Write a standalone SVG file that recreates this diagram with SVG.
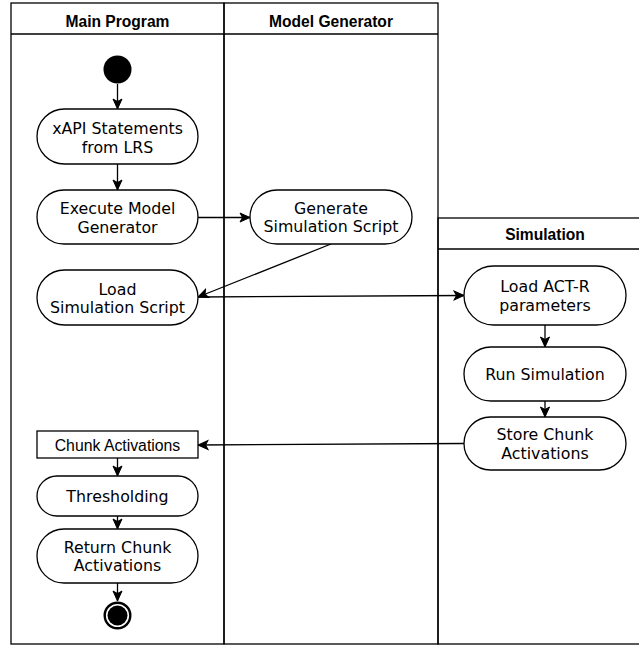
<svg xmlns="http://www.w3.org/2000/svg" width="639" height="646" viewBox="0 0 639 646">
  <style>
    .lane { fill: none; stroke: #000; stroke-width: 1.3; }
    .act { fill: #fff; stroke: #000; stroke-width: 1.3; }
    .lbl { font-family: "DejaVu Sans", Verdana, sans-serif; font-size: 15.8px; fill: #000; text-anchor: middle; }
    .hdr { font-family: "Liberation Sans", Arial, sans-serif; font-size: 15.6px; font-weight: bold; fill: #000; text-anchor: middle; }
    .obj { font-family: "Liberation Sans", Arial, sans-serif; font-size: 15.8px; fill: #000; text-anchor: middle; }
    .edge { fill: none; stroke: #000; stroke-width: 1.3; marker-end: url(#arrow); }
  </style>
  <defs>
    <marker id="arrow" markerUnits="userSpaceOnUse" viewBox="-11 -6 12 12" markerWidth="12" markerHeight="12" refX="0" refY="0" orient="auto">
      <path d="M0,0 L-10,-4.5 L-7.5,0 L-10,4.5 Z" fill="#000" stroke="#000" stroke-width="1"/>
    </marker>
  </defs>
  <rect x="0" y="0" width="639" height="646" fill="#fff"/>

  <!-- swimlanes -->
  <g id="lane-main">
    <rect class="lane" x="11" y="3" width="213" height="641"/>
    <line class="lane" x1="11" y1="34" x2="224" y2="34"/>
    <text class="hdr" x="117.5" y="26.5">Main Program</text>
  </g>
  <g id="lane-generator">
    <rect class="lane" x="224" y="3" width="214" height="641"/>
    <line class="lane" x1="224" y1="34" x2="438" y2="34"/>
    <text class="hdr" x="331" y="26.5">Model Generator</text>
  </g>
  <g id="lane-simulation">
    <rect class="lane" x="438" y="218" width="214" height="426"/>
    <line class="lane" x1="438" y1="249" x2="652" y2="249"/>
    <text class="hdr" x="545" y="240">Simulation</text>
  </g>

  <!-- connectors -->
  <g id="connectors">
    <line class="edge" x1="117.5" y1="84" x2="117.5" y2="109"/>
    <line class="edge" x1="117.5" y1="164" x2="117.5" y2="190"/>
    <line class="edge" x1="198" y1="217.5" x2="250" y2="217.5"/>
    <line class="edge" x1="331" y1="244" x2="198" y2="297"/>
    <line class="edge" x1="198" y1="297" x2="464" y2="295.5"/>
    <line class="edge" x1="545" y1="325" x2="545" y2="347"/>
    <line class="edge" x1="545" y1="401" x2="545" y2="417"/>
    <line class="edge" x1="464" y1="443.5" x2="198" y2="445"/>
    <line class="edge" x1="117.5" y1="458" x2="117.5" y2="476"/>
    <line class="edge" x1="117.5" y1="516" x2="117.5" y2="529"/>
    <line class="edge" x1="117.5" y1="583" x2="117.5" y2="601"/>
  </g>

  <!-- nodes -->
  <g id="start">
    <circle cx="117.5" cy="69.5" r="14" fill="#000"/>
  </g>
  <g id="xapi-statements">
    <rect class="act" x="37" y="109" width="161" height="55" rx="27.5"/>
    <text class="lbl" x="117.5" y="133.5">xAPI Statements</text>
    <text class="lbl" x="117.5" y="152.5">from LRS</text>
  </g>
  <g id="execute-model-generator">
    <rect class="act" x="37" y="190" width="161" height="54" rx="27"/>
    <text class="lbl" x="117.5" y="214">Execute Model</text>
    <text class="lbl" x="117.5" y="232.7">Generator</text>
  </g>
  <g id="generate-simulation-script">
    <rect class="act" x="250" y="190" width="162" height="54" rx="27"/>
    <text class="lbl" x="331" y="213.5">Generate</text>
    <text class="lbl" x="331" y="232.3">Simulation Script</text>
  </g>
  <g id="load-simulation-script">
    <rect class="act" x="37" y="270" width="161" height="55" rx="27.5"/>
    <text class="lbl" x="117.5" y="294.5">Load</text>
    <text class="lbl" x="117.5" y="313">Simulation Script</text>
  </g>
  <g id="load-actr-parameters">
    <rect class="act" x="464" y="266" width="162" height="59" rx="29.5"/>
    <text class="lbl" x="545" y="292">Load ACT-R</text>
    <text class="lbl" x="545" y="310.5">parameters</text>
  </g>
  <g id="run-simulation">
    <rect class="act" x="464" y="347" width="162" height="54" rx="27"/>
    <text class="lbl" x="545" y="380">Run Simulation</text>
  </g>
  <g id="store-chunk-activations">
    <rect class="act" x="464" y="417" width="162" height="53" rx="26.5"/>
    <text class="lbl" x="545" y="440">Store Chunk</text>
    <text class="lbl" x="545" y="459">Activations</text>
  </g>
  <g id="chunk-activations">
    <rect class="act" x="37" y="431" width="161" height="27"/>
    <text class="obj" x="117.5" y="450.5">Chunk Activations</text>
  </g>
  <g id="thresholding">
    <rect class="act" x="37" y="476" width="161" height="40" rx="20"/>
    <text class="lbl" x="117.5" y="501.5">Thresholding</text>
  </g>
  <g id="return-chunk-activations">
    <rect class="act" x="37" y="529" width="161" height="54" rx="27"/>
    <text class="lbl" x="117.5" y="552.5">Return Chunk</text>
    <text class="lbl" x="117.5" y="571">Activations</text>
  </g>
  <g id="end">
    <circle cx="117.5" cy="615.5" r="12.8" fill="#fff" stroke="#000" stroke-width="2.4"/>
    <circle cx="117.5" cy="615.5" r="10" fill="#000"/>
  </g>
</svg>
